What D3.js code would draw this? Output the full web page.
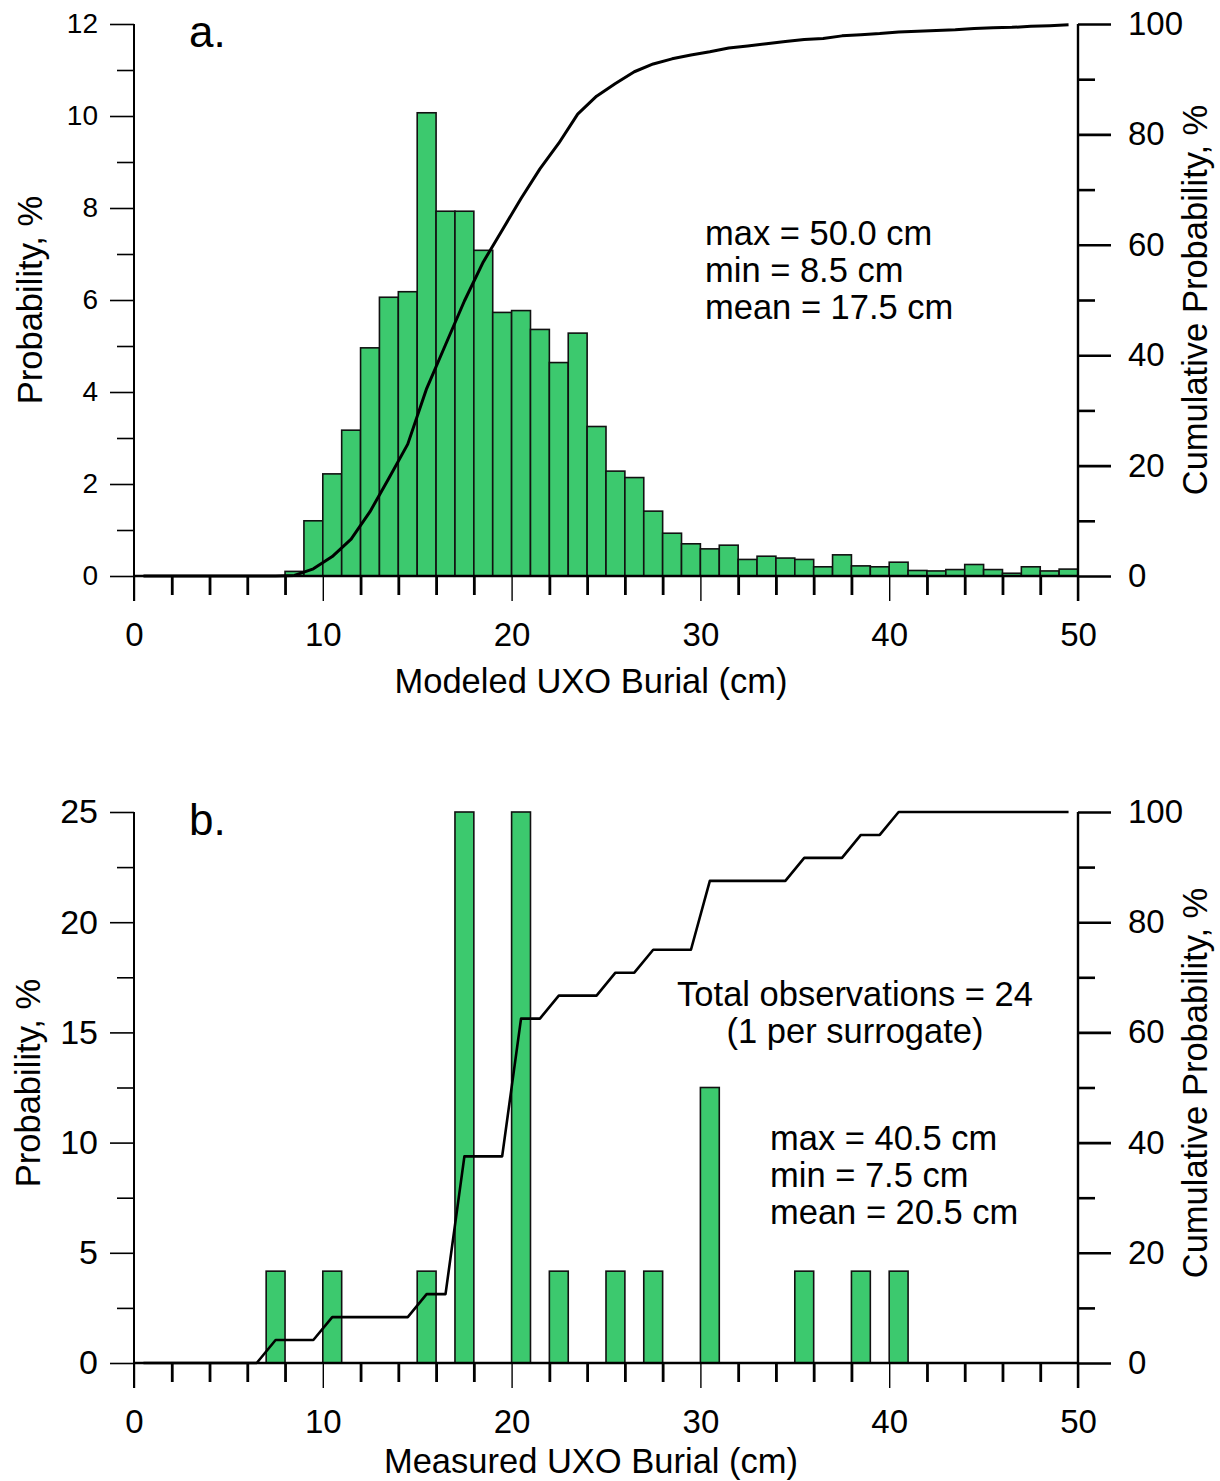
<!DOCTYPE html>
<html><head><meta charset="utf-8">
<script src="https://cdn.jsdelivr.net/npm/d3@7"></script>
<style>
body{margin:0;background:#fff}
svg{display:block}
text{font-family:"Liberation Sans",Arial,Helvetica,sans-serif;fill:#000}
</style>
</head><body>
<svg id="chart" width="1220" height="1481"></svg>
<script>
// ---------- data ----------
const binLow = [0,1,2,3,4,5,6,7,8,9,10,11,12,13,14,15,16,17,18,19,20,21,22,23,24,
                25,26,27,28,29,30,31,32,33,34,35,36,37,38,39,40,41,42,43,44,45,46,47,48,49];
// Panel a: modeled burial probability (%) per 1-cm bin
const probModeled = [0,0,0,0,0,0,0,0,0.10,1.20,2.22,3.17,4.96,6.06,6.18,10.07,7.93,7.93,7.08,5.73,
                     5.77,5.36,4.64,5.28,3.25,2.28,2.14,1.41,0.93,0.70,0.59,0.67,0.36,0.43,0.39,0.36,0.20,0.46,0.22,0.20,
                     0.30,0.12,0.11,0.14,0.25,0.14,0.06,0.20,0.11,0.15];
// Panel b: measured burial probability (%) per 1-cm bin
const probMeasured = [0,0,0,0,0,0,0,4.167,0,0,4.167,0,0,0,0,4.167,0,25,0,0,
                      25,0,4.167,0,0,4.167,0,4.167,0,0,12.5,0,0,0,0,4.167,0,0,4.167,0,
                      4.167,0,0,0,0,0,0,0,0,0];
const xTickLabels = [0,10,20,30,40,50];
const yTicksA = [0,2,4,6,8,10,12];
const yTicksB = [0,5,10,15,20,25];
const cumTicks = [0,20,40,60,80,100];
const statsA = ["max = 50.0 cm","min = 8.5 cm","mean = 17.5 cm"];
const statsB = ["max = 40.5 cm","min = 7.5 cm","mean = 20.5 cm"];
const noteB = ["Total observations = 24","(1 per surrogate)"];

// ---------- drawing ----------
const svg = d3.select("#chart");
const GREEN = "#3cc96e";
const FONT = "Liberation Sans, Arial, sans-serif";
const x = d3.scaleLinear().domain([0,50]).range([134,1078]);

function panel(cfg){
  const g = svg.append("g");
  const y = d3.scaleLinear().domain([0,cfg.yMax]).range([cfg.y0, cfg.yTop]);
  const yc = d3.scaleLinear().domain([0,100]).range([cfg.y0, cfg.yTop]);

  // bars
  const bars = binLow.map((b,i)=>({b, v: cfg.values[i]})).filter(d=>d.v>0);
  g.append("g").selectAll("rect").data(bars).join("rect")
    .attr("x", d=>x(d.b)).attr("width", d=>x(d.b+1)-x(d.b))
    .attr("y", d=>y(d.v)).attr("height", d=>y(0)-y(d.v))
    .attr("fill", GREEN).attr("stroke","#111").attr("stroke-width",1.6);

  // x axis: minor ticks (thick, short) and major ticks (thin, long)
  const minorX = d3.range(0,51,2).filter(d=>d%10!==0);
  const gxMinor = g.append("g").attr("transform",`translate(0,${cfg.y0})`)
    .call(d3.axisBottom(x).tickValues(minorX).tickSize(19).tickSizeOuter(0).tickFormat(""));
  gxMinor.select(".domain").remove();
  gxMinor.selectAll("line").attr("stroke","#000").attr("stroke-width",2.8);
  const gxMajor = g.append("g").attr("transform",`translate(0,${cfg.y0})`)
    .call(d3.axisBottom(x).tickValues(xTickLabels).tickSize(25).tickSizeOuter(0).tickPadding(22).tickFormat(d3.format("d")));
  gxMajor.select(".domain").remove();
  gxMajor.selectAll("line").attr("stroke","#000").attr("stroke-width",1.4);
  gxMajor.selectAll("text").attr("font-size",cfg.xFont).attr("fill","#000").attr("font-family",FONT);

  // left axis
  const gyMinor = g.append("g").attr("transform",`translate(134,0)`)
    .call(d3.axisLeft(y).tickValues(cfg.yMinor).tickSize(17).tickSizeOuter(0).tickFormat(""));
  gyMinor.select(".domain").remove();
  gyMinor.selectAll("line").attr("stroke","#000").attr("stroke-width",1.6);
  const gy = g.append("g").attr("transform",`translate(134,0)`)
    .call(d3.axisLeft(y).tickValues(cfg.yTicks).tickSize(24).tickSizeOuter(0).tickPadding(12).tickFormat(d3.format("d")));
  gy.select(".domain").remove();
  gy.selectAll("line").attr("stroke","#000").attr("stroke-width",1.6);
  gy.selectAll("text").attr("font-size",cfg.yFont).attr("fill","#000").attr("font-family",FONT);

  // right axis (cumulative)
  const minorC = [10,30,50,70,90];
  const gcMinor = g.append("g").attr("transform",`translate(1078,0)`)
    .call(d3.axisRight(yc).tickValues(minorC).tickSize(17).tickSizeOuter(0).tickFormat(""));
  gcMinor.select(".domain").remove();
  gcMinor.selectAll("line").attr("stroke","#000").attr("stroke-width",2.6);
  const gc = g.append("g").attr("transform",`translate(1078,0)`)
    .call(d3.axisRight(yc).tickValues(cumTicks).tickSize(33).tickSizeOuter(0).tickPadding(17).tickFormat(d3.format("d")));
  gc.select(".domain").remove();
  gc.selectAll("line").attr("stroke","#000").attr("stroke-width",2.6);
  gc.selectAll("text").attr("font-size",cfg.cFont).attr("fill","#000").attr("font-family",FONT);

  // axis lines
  g.append("line").attr("x1",134).attr("x2",134).attr("y1",cfg.yTop).attr("y2",cfg.y0+25)
    .attr("stroke","#000").attr("stroke-width",2);
  g.append("line").attr("x1",1078).attr("x2",1078).attr("y1",cfg.yTop).attr("y2",cfg.y0+25)
    .attr("stroke","#000").attr("stroke-width",2.4);
  g.append("line").attr("x1",134).attr("x2",1078).attr("y1",cfg.y0).attr("y2",cfg.y0)
    .attr("stroke","#000").attr("stroke-width",2.4);

  // cumulative line at bin centres
  const cum = d3.cumsum(cfg.values);
  const pts = binLow.map((b,i)=>[b+0.5, cum[i]]);
  g.append("path").datum(pts)
    .attr("d", d3.line().x(d=>x(d[0])).y(d=>yc(d[1])))
    .attr("fill","none").attr("stroke","#000").attr("stroke-width",cfg.lineW)
    .attr("stroke-linejoin","round");

  // panel letter
  g.append("text").attr("x",189).attr("y",cfg.yTop+23).attr("font-size",44).text(cfg.letter);

  // axis titles
  g.append("text").attr("transform",`translate(${cfg.ltX},${cfg.ltY}) rotate(-90)`)
    .attr("text-anchor","middle").attr("font-size",cfg.titleFont).text("Probability, %");
  g.append("text").attr("transform",`translate(1207,${cfg.ltY}) rotate(-90)`)
    .attr("text-anchor","middle").attr("font-size",cfg.titleFont).text("Cumulative Probability, %");
  g.append("text").attr("x",591).attr("y",cfg.xtY).attr("text-anchor","middle")
    .attr("font-size",cfg.titleFont).text(cfg.xTitle);

  // stats text
  g.append("g").selectAll("text").data(cfg.stats).join("text")
    .attr("x",cfg.statsX).attr("y",(d,i)=>cfg.statsY+i*37)
    .attr("font-size",cfg.statsFont).text(d=>d);
  return {g,y,yc};
}

panel({
  values: probModeled, yMax:12, y0:576, yTop:24,
  yTicks: yTicksA, yMinor:[1,3,5,7,9,11],
  xFont:33, yFont:28, cFont:33, titleFont:34.5, lineW:3,
  letter:"a.", xTitle:"Modeled UXO Burial (cm)",
  ltX:42, ltY:300, xtY:693,
  stats: statsA, statsX:705, statsY:245, statsFont:34.5
});

const pb = panel({
  values: probMeasured, yMax:25, y0:1363, yTop:812,
  yTicks: yTicksB, yMinor:[2.5,7.5,12.5,17.5,22.5],
  xFont:33, yFont:34, cFont:33, titleFont:34.5, lineW:2.6,
  letter:"b.", xTitle:"Measured UXO Burial (cm)",
  ltX:40, ltY:1083, xtY:1473,
  stats: statsB, statsX:770, statsY:1150, statsFont:34.5
});

pb.g.append("g").selectAll("text").data(noteB).join("text")
  .attr("x",855).attr("y",(d,i)=>1006+i*37).attr("text-anchor","middle")
  .attr("font-size",34.5).text(d=>d);
</script>
</body></html>
